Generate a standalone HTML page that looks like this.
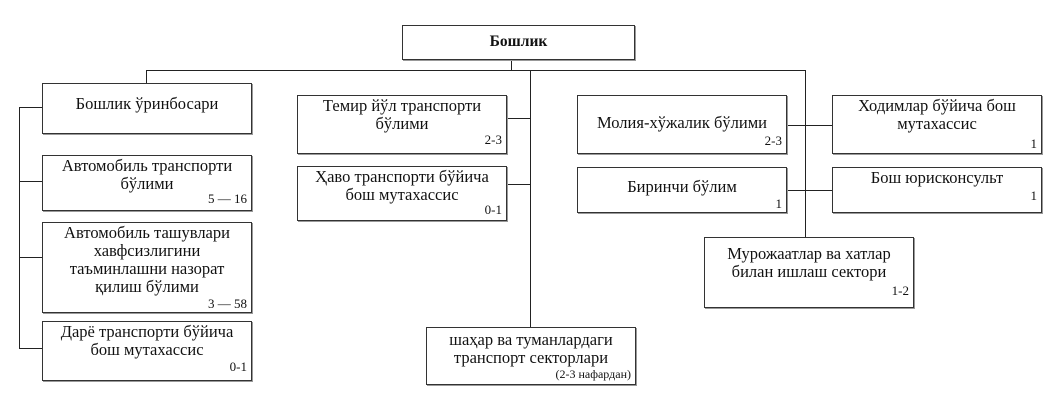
<!DOCTYPE html>
<html><head><meta charset="utf-8"><style>
body{margin:0;width:1060px;height:404px;background:#fff;position:relative;overflow:hidden;font-family:"Liberation Serif",serif;color:#111}
.b{position:absolute;border:1.3px solid #333;box-sizing:border-box;box-shadow:1px 1px 0 #999;text-align:center;font-size:16.5px;line-height:18px;white-space:nowrap}
.n{position:absolute;right:4px;font-size:13px;line-height:13px}
.l{position:absolute;background:#222}
</style></head><body>
<div class="l" style="left:511px;top:59px;width:1px;height:12px"></div>
<div class="l" style="left:146px;top:70px;width:660px;height:1px"></div>
<div class="l" style="left:146px;top:70px;width:1px;height:13px"></div>
<div class="l" style="left:530px;top:70px;width:1px;height:257px"></div>
<div class="l" style="left:805px;top:70px;width:1px;height:167px"></div>
<div class="l" style="left:19px;top:107px;width:1px;height:242px"></div>
<div class="l" style="left:19px;top:107px;width:23px;height:1px"></div>
<div class="l" style="left:19px;top:181px;width:23px;height:1px"></div>
<div class="l" style="left:19px;top:257px;width:23px;height:1px"></div>
<div class="l" style="left:19px;top:348px;width:23px;height:1px"></div>
<div class="l" style="left:507px;top:118px;width:23px;height:1px"></div>
<div class="l" style="left:507px;top:184px;width:23px;height:1px"></div>
<div class="l" style="left:786px;top:125px;width:46px;height:1px"></div>
<div class="l" style="left:786px;top:190px;width:46px;height:1px"></div>

<div class="b" style="left:402px;top:25px;width:233px;height:35px;font-weight:bold;padding-top:7px;font-size:15.5px">Бошлик</div>
<div class="b" style="left:42px;top:83px;width:210px;height:51px;padding-top:11px">Бошлик ўринбосари</div>
<div class="b" style="left:42px;top:155px;width:210px;height:56px;padding-top:1px">Автомобиль транспорти<br>бўлими<span class="n" style="top:36px">5 — 16</span></div>
<div class="b" style="left:42px;top:222px;width:210px;height:91px;padding-top:1px">Автомобиль ташувлари<br>хавфсизлигини<br>таъминлашни назорат<br>қилиш бўлими<span class="n" style="top:74px">3 — 58</span></div>
<div class="b" style="left:42px;top:321px;width:210px;height:60px;padding-top:1px">Дарё транспорти бўйича<br>бош мутахассис<span class="n" style="top:38px">0-1</span></div>
<div class="b" style="left:297px;top:95px;width:210px;height:59px;padding-top:1px">Темир йўл транспорти<br>бўлими<span class="n" style="top:37px">2-3</span></div>
<div class="b" style="left:297px;top:166px;width:210px;height:55px;padding-top:1px">Ҳаво транспорти бўйича<br>бош мутахассис<span class="n" style="top:36px">0-1</span></div>
<div class="b" style="left:426px;top:327px;width:210px;height:58px;padding-top:3px">шаҳар ва туманлардаги<br>транспорт секторлари<span class="n" style="top:40px;font-size:12px">(2-3 нафардан)</span></div>
<div class="b" style="left:577px;top:95px;width:210px;height:59px;padding-top:18px">Молия-хўжалик бўлими<span class="n" style="top:38px">2-3</span></div>
<div class="b" style="left:577px;top:167px;width:210px;height:46px;padding-top:10px">Биринчи бўлим<span class="n" style="top:29px">1</span></div>
<div class="b" style="left:832px;top:95px;width:210px;height:59px;padding-top:1px">Ходимлар бўйича бош<br>мутахассис<span class="n" style="top:41px">1</span></div>
<div class="b" style="left:832px;top:167px;width:210px;height:46px;padding-top:1px">Бош юрисконсульт<span class="n" style="top:21px">1</span></div>
<div class="b" style="left:704px;top:237px;width:210px;height:71px;padding-top:7px">Мурожаатлар ва хатлар<br>билан ишлаш сектори<span class="n" style="top:46px">1-2</span></div>
</body></html>
